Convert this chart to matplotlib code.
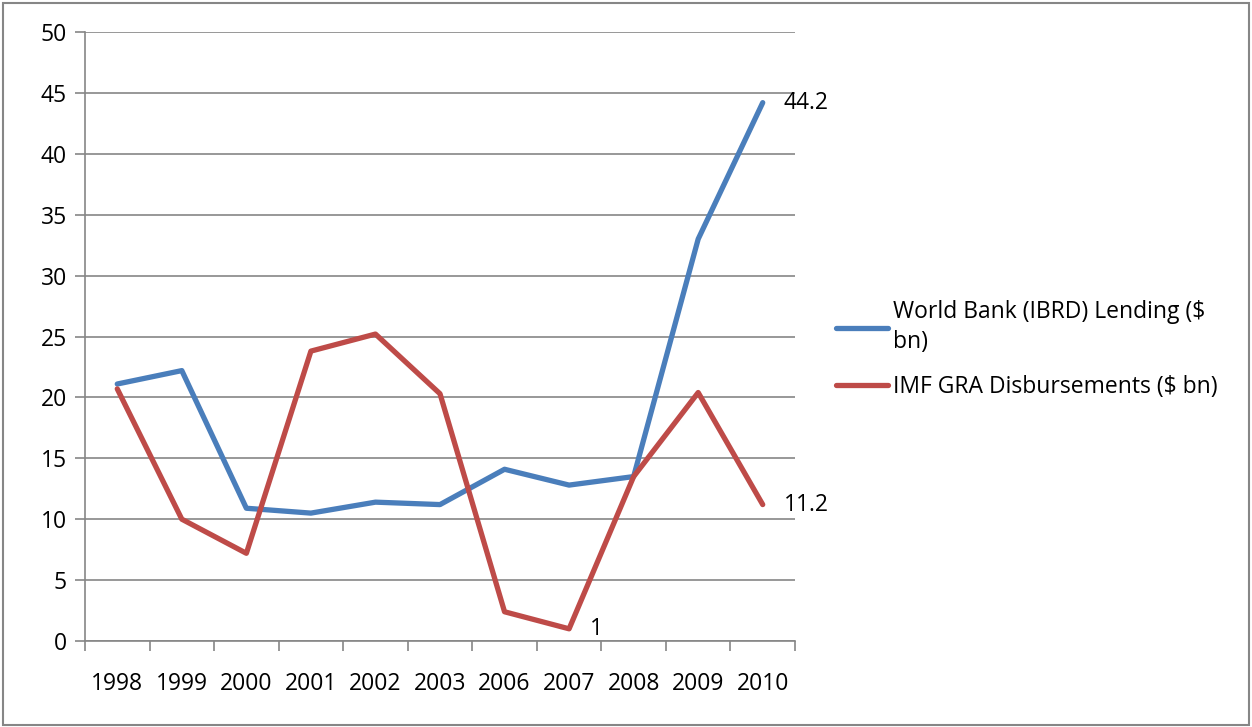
import matplotlib
matplotlib.use('Agg')
import matplotlib.pyplot as plt
from matplotlib.patches import Rectangle

years = ['1998', '1999', '2000', '2001', '2002', '2003', '2006', '2007', '2008', '2009', '2010']
world_bank = [21.1, 22.2, 10.9, 10.5, 11.4, 11.2, 14.1, 12.8, 13.5, 33.0, 44.2]
imf_gra = [20.7, 10.0, 7.2, 23.8, 25.2, 20.3, 2.4, 1.0, 13.5, 20.4, 11.2]
wb_label = 'World Bank (IBRD) Lending ($\nbn)'
imf_label = 'IMF GRA Disbursements ($ bn)'
# labelled points: (series, index, text)
point_labels = [('wb', 10, '44.2'), ('imf', 7, '1'), ('imf', 10, '11.2')]

plt.rcParams['font.family'] = ['Open Sans', 'DejaVu Sans']
FS = 16.5
GRID = '#868686'

fig = plt.figure(figsize=(12.52, 7.27), dpi=100)
ax = fig.add_axes([85 / 1252, 1 - 641 / 727, 710 / 1252, 609 / 727])

x = list(range(len(years)))
ax.plot(x, world_bank, color='#4A7EBB', linewidth=3.8, solid_joinstyle='round',
        solid_capstyle='round', label=wb_label, zorder=3)
ax.plot(x, imf_gra, color='#BE4B48', linewidth=3.8, solid_joinstyle='round',
        solid_capstyle='round', label=imf_label, zorder=3)

series = {'wb': world_bank, 'imf': imf_gra}
for key, i, txt in point_labels:
    ax.annotate(txt, (i, series[key][i]), xytext=(15, 0), textcoords='offset points',
                ha='left', va='center', fontsize=FS)

ax.set_xlim(-0.5, len(years) - 0.5)
ax.set_ylim(0, 50)
ax.set_yticks(range(0, 51, 5))
ax.grid(axis='y', color=GRID, linewidth=1.2)
ax.set_axisbelow(True)

# category ticks on boundaries, labels at centers
ax.set_xticks([i - 0.5 for i in range(len(years) + 1)])
ax.set_xticklabels([])
ax.set_xticks(x, minor=True)
ax.set_xticklabels(years, minor=True, fontsize=FS)
ax.tick_params(axis='x', which='major', length=7, color=GRID, width=1.2, direction='out')
ax.tick_params(axis='x', which='minor', length=0, pad=22)
ax.tick_params(axis='y', length=7, color=GRID, width=1.2, labelsize=FS, pad=6)

for side in ['top', 'right']:
    ax.spines[side].set_visible(False)
for side in ['left', 'bottom']:
    ax.spines[side].set_color(GRID)
    ax.spines[side].set_linewidth(1.2)

leg = fig.legend(loc='upper left', bbox_to_anchor=(815 / 1252, 1 - 279 / 727),
                 frameon=False, fontsize=FS, handlelength=2.3, handletextpad=0.2,
                 labelspacing=0.9)
for t in leg.get_texts():
    t.set_linespacing(1.35)

fig.patches.append(Rectangle((2.5 / 1252, 2.5 / 727), 1 - 6 / 1252, 1 - 5 / 727,
                             transform=fig.transFigure, fill=False,
                             edgecolor=GRID, linewidth=1.5))

fig.savefig('out.png', dpi=100)
